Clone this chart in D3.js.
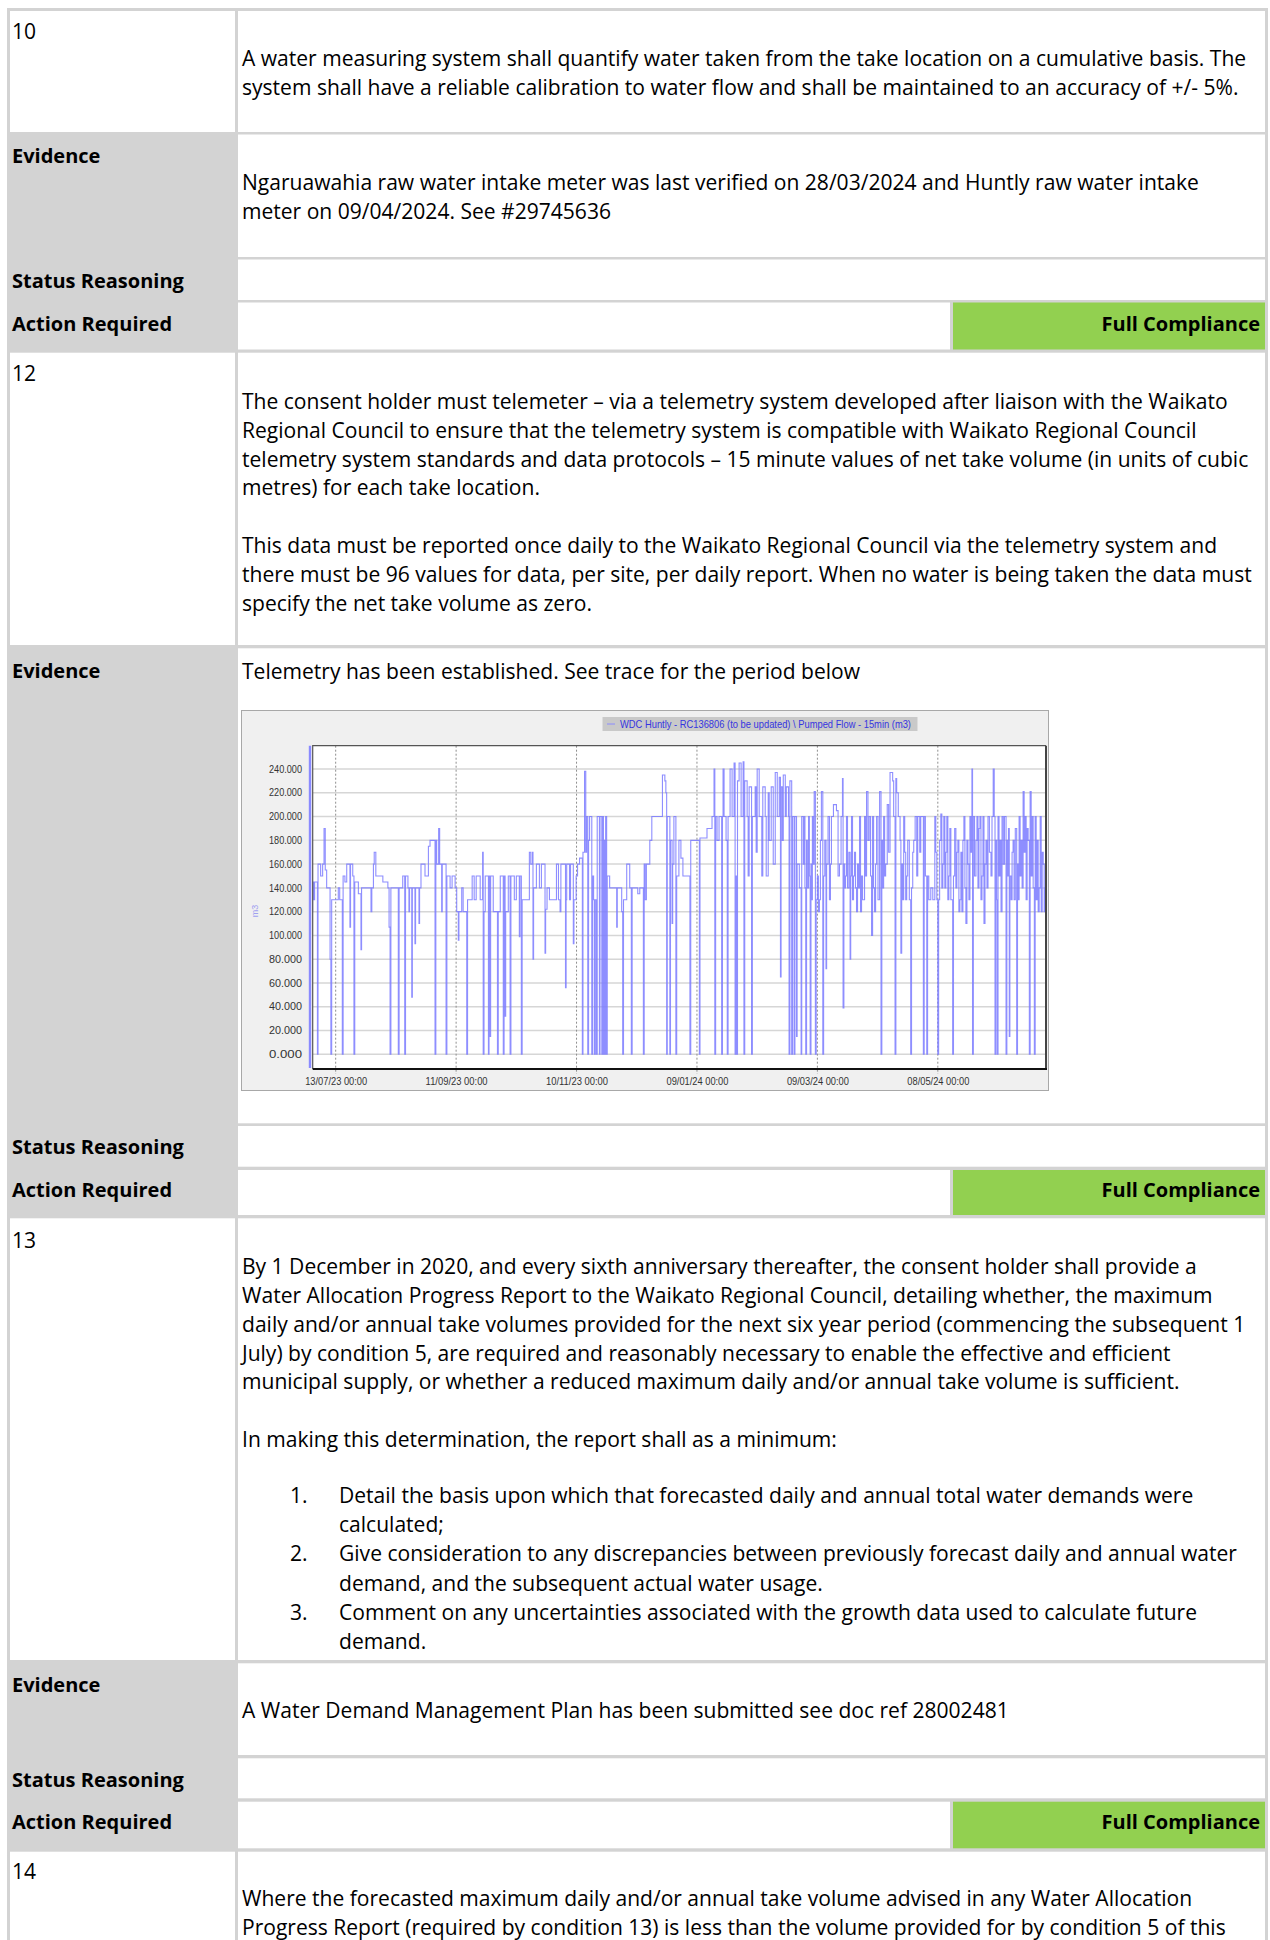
<!DOCTYPE html>
<html>
<head>
<meta charset="utf-8">
<script src="https://cdn.jsdelivr.net/npm/d3@7"></script>
<style>
body { margin: 0; background: #fff; }
svg { display: block; }
</style>
</head>
<body>
<svg id="page" width="1270" height="1940"></svg>
<script>
// ---- chart values (day offset from 1 Jul 2023, m3 per 15 min) ----
const flowJulOct = [
	[0,120],[0.5,145],[1.0,130],[1.5,145],[2.9,0],[3.2,160],[4.5,150],[5.5,160],[6.2,190],[6.8,155],
	[7.5,140],[9.2,80],[9.6,0],[10.0,130],[13.3,140],[14.0,130],[15.3,0],[15.7,150],[16.6,145],[17.5,160],
	[19.1,107],[19.4,160],[20.5,150],[21.1,0],[21.5,145],[23.3,135],[24.6,88],[24.9,140],[29.6,120],[30.0,140],
	[30.8,160],[31.2,170],[32.0,150],[35.5,145],[38.0,140],[38.6,107],[39.1,0],[39.5,140],[43.2,0],[43.6,140],
	[45.4,150],[46.4,0],[46.8,150],[48.0,140],[48.5,120],[48.8,140],[49.9,48],[50.2,140],[51.5,93],[51.8,140],
	[53.5,110],[53.8,140],[54.5,160],[56.5,150],[58.2,175],[59.0,180],[61.5,0],[61.9,180],[62.3,160],[63.3,190],
	[63.8,160],[64.8,120],[65.1,160],[67.0,0],[67.4,150],[69.0,140],[70.0,150],[71.5,140],[72.3,120],[73.1,96],
	[73.4,120],[74.8,140],[75.5,120],[77.3,0],[77.7,130],[80.0,150],[81.0,130],[82.0,150],[84.0,130],[85.2,170],
	[85.5,0],[85.9,120],[86.5,150],[88.1,0],[88.4,150],[88.9,15],[89.2,150],[90.5,120],[92.6,0],[93.0,120],
	[94.0,150],[95.5,0],[95.9,150],[96.4,32],[96.7,120],[98.0,150],[98.9,0],[99.3,150],[101.0,130],[102.0,150],
	[103.5,99],[103.8,150],[104.5,0],[104.9,130],[108.5,170],[109.2,160],[110.0,170],[110.3,80],[110.6,140],[112.0,160],
	[113.5,140],[114.5,160],[116.3,85],[116.6,122],[117.3,140],[118.5,130],[122.0,160]
]
const flowNovFeb = [
	[123.0,130],[123.8,120],[124.2,160],[126.5,56],[126.8,130],[127.1,160],[128.5,130],[129.0,160],[130.4,93],[130.7,130],
	[131.8,150],[132.5,160],[133.5,165],[134.9,0],[135.2,170],[136.0,238],[136.6,170],[137.0,200],[137.6,0],[138.0,180],
	[138.5,200],[139.6,0],[140.0,150],[140.5,130],[140.9,0],[141.3,130],[141.9,0],[142.3,200],[143.4,0],[143.7,200],
	[144.6,0],[144.9,200],[145.4,0],[145.7,180],[146.2,0],[146.5,200],[147.0,0],[147.3,150],[148.5,140],[152.0,107],
	[152.3,140],[154.5,120],[155.0,0],[155.4,130],[157.0,160],[158.5,140],[159.3,0],[159.7,140],[162.5,135],[163.5,140],
	[165.3,0],[165.7,160],[166.2,130],[166.8,160],[168.5,180],[169.5,200],[174.8,235],[176.0,230],[176.5,220],[176.9,0],
	[177.2,200],[178.5,0],[178.8,180],[179.6,110],[179.9,160],[180.5,200],[181.5,0],[181.9,150],[183.0,180],[184.0,165],
	[185.0,150],[188.5,0],[188.9,180],[193.2,0],[193.5,182],[197.0,190],[199.5,200],[200.5,240],[200.9,0],[201.3,200],
	[202.0,180],[203.0,200],[204.3,0],[204.7,200],[205.0,240],[205.5,200],[206.5,180],[207.1,0],[207.5,200],[208.5,240],
	[209.5,200],[210.5,245],[211.0,0],[211.3,150],[211.8,0],[212.2,230],[213.0,245],[214.0,200],[215.0,246],[215.4,0],
	[215.8,230],[217.0,200],[217.5,150],[218.0,225],[219.2,0],[219.6,200],[221.0,225],[221.5,170],[222.0,240],[223.0,200],
	[224.3,150],[224.8,225],[226.0,200],[226.5,150],[227.5,220],[228.0,180],[229.0,225],[230.0,160],[231.0,237],[232.0,200],
	[233.0,233],[233.6,65],[233.9,225],[234.5,180],[235.0,235],[236.0,200],[236.5,225],[237.6,200],[237.9,0],[238.3,230],
	[239.2,0],[239.6,200],[240.4,0],[240.8,200],[241.6,15],[241.9,160],[243.0,140],[243.9,0],[244.2,200]
]
const flowMarJun = [
	[245.0,160],[245.5,200],[245.8,140],[246.2,0],[246.6,180],[247.0,140],[247.6,200],[248.0,150],[248.4,0],[248.8,160],
	[249.2,130],[249.5,200],[250.0,160],[250.4,221],[251.0,0],[251.4,130],[252.0,150],[252.5,120],[253.0,130],[253.5,180],
	[254.0,221],[254.7,0],[255.1,150],[255.7,180],[256.3,72],[256.6,160],[257.3,200],[258.0,130],[258.5,160],[259.0,200],
	[260.0,210],[261.5,205],[262.3,150],[263.0,160],[263.8,200],[264.5,232],[264.8,39],[265.2,160],[265.6,140],[266.0,150],
	[266.5,200],[267.0,140],[267.7,170],[268.3,80],[268.6,150],[269.0,200],[269.5,130],[270.0,150],[270.5,170],[271.0,140],
	[271.5,120],[272.0,160],[272.5,140],[273.0,200],[273.5,120],[274.0,150],[274.5,130],[275.5,200],[276.0,150],[276.5,221],
	[277.2,180],[277.8,200],[278.5,150],[279.0,100],[279.5,200],[280.0,140],[280.5,120],[281.0,160],[281.5,200],[282.2,130],
	[283.0,221],[283.7,0],[284.1,180],[284.6,140],[285.0,200],[285.5,150],[286.0,160],[286.8,210],[287.5,170],[288.2,237],
	[289.5,230],[290.0,200],[290.7,0],[291.1,232],[291.5,220],[292.3,200],[293.2,180],[293.6,85],[294.0,160],[294.5,130],
	[295.0,200],[295.5,170],[296.0,130],[296.5,150],[297.0,180],[297.8,130],[298.5,0],[298.9,140],[299.5,170],[300.0,180],
	[300.7,200],[301.5,150],[302.0,200],[303.0,170],[303.5,200],[304.8,0],[305.2,200],[305.8,150],[306.5,0],[306.9,150],
	[307.5,130],[308.5,140],[309.5,130],[310.5,200],[311.0,170],[311.5,130],[312.0,0],[312.4,130],[312.9,180],[313.5,202],
	[314.0,140],[314.5,160],[315.0,200],[315.5,140],[316.0,170],[316.5,200],[317.0,130],[317.5,150],[318.0,190],[318.5,130],
	[319.4,0],[319.8,150],[320.4,190],[321.0,140],[321.5,170],[322.0,180],[322.5,120],[323.0,130],[323.5,170],[324.0,120],
	[324.5,180],[325.0,200],[325.5,140],[326.0,110],[326.5,180],[327.0,160],[327.5,130],[328.0,200],[328.5,170],[329.0,240],
	[329.3,0],[329.7,200],[330.3,150],[331.0,180],[331.5,200],[332.0,140],[332.5,190],[333.0,200],[333.5,130],[334.0,150],
	[334.5,200],[335.0,110],[335.5,160],[336.0,180],[336.5,140],[337.0,200],[337.7,170],[338.5,150],[339.0,200],[339.6,240],
	[340.1,200],[340.5,0],[340.9,180],[341.3,130],[341.6,0],[342.0,200],[342.5,150],[343.0,180],[343.5,120],[344.0,200],
	[344.6,160],[345.2,200],[346.0,0],[346.4,180],[346.8,150],[347.2,190],[347.6,15],[347.9,150],[348.5,130],[349.0,170],
	[349.5,180],[350.0,130],[350.6,190],[351.3,0],[351.7,160],[352.0,130],[352.5,200],[353.0,150],[353.5,180],[354.0,140],
	[354.5,221],[355.0,170],[355.5,200],[356.0,130],[356.5,190],[357.0,180],[357.6,0],[358.0,221],[358.5,150],[359.0,200],
	[359.5,140],[360.1,0],[360.5,200],[361.0,130],[361.5,180],[362.0,120],[362.5,140],[363.0,200],[363.5,120],[364.0,170],
	[364.5,160],[365.0,120],[365.5,140]
]

const yTickValues = [0, 20, 40, 60, 80, 100, 120, 140, 160, 180, 200, 220, 240]
const xTickLabels = ['13/07/23', '11/09/23', '10/11/23', '09/01/24', '09/03/24', '08/05/24']
const legendLabel = 'WDC Huntly - RC136806 (to be updated) \\ Pumped Flow - 15min (m3)'
const yTitle = 'm3'

// ---- document text ----
const cond10 = [
	'A water measuring system shall quantify water taken from the take location on a cumulative basis. The',
	'system shall have a reliable calibration to water flow and shall be maintained to an accuracy of +/- 5%.'
]
const evidence10 = [
	'Ngaruawahia raw water intake meter was last verified on 28/03/2024 and Huntly raw water intake',
	'meter on 09/04/2024. See #29745636'
]
const cond12 = [
	'The consent holder must telemeter \u2013 via a telemetry system developed after liaison with the Waikato',
	'Regional Council to ensure that the telemetry system is compatible with Waikato Regional Council',
	'telemetry system standards and data protocols \u2013 15 minute values of net take volume (in units of cubic',
	'metres) for each take location.',
	'',
	'This data must be reported once daily to the Waikato Regional Council via the telemetry system and',
	'there must be 96 values for data, per site, per daily report. When no water is being taken the data must',
	'specify the net take volume as zero.'
]
const evidence12 = ['Telemetry has been established. See trace for the period below']
const cond13 = [
	'By 1 December in 2020, and every sixth anniversary thereafter, the consent holder shall provide a',
	'Water Allocation Progress Report to the Waikato Regional Council, detailing whether, the maximum',
	'daily and/or annual take volumes provided for the next six year period (commencing the subsequent 1',
	'July) by condition 5, are required and reasonably necessary to enable the effective and efficient',
	'municipal supply, or whether a reduced maximum daily and/or annual take volume is sufficient.',
	'',
	'In making this determination, the report shall as a minimum:'
]
const cond13List = [
	['1.', 'Detail the basis upon which that forecasted daily and annual total water demands were'],
	['', 'calculated;'],
	['2.', 'Give consideration to any discrepancies between previously forecast daily and annual water'],
	['', 'demand, and the subsequent actual water usage.'],
	['3.', 'Comment on any uncertainties associated with the growth data used to calculate future'],
	['', 'demand.']
]
const evidence13 = ['A Water Demand Management Plan has been submitted see doc ref 28002481']
const cond14 = [
	'Where the forecasted maximum daily and/or annual take volume advised in any Water Allocation',
	'Progress Report (required by condition 13) is less than the volume provided for by condition 5 of this'
]

const FONT = '"Open Sans", "Noto Sans", sans-serif'
const CHART_FONT = '"Liberation Sans", Arial, sans-serif'
const BORDER = '#d3d3d3'
const GREEN = '#92d050'
const LINE_H = 28.8

const svg = d3.select('#page')

function fitSize(str, weight, target) {
	const probe = svg.append('text')
		.attr('font-family', FONT)
		.attr('font-weight', weight)
		.attr('font-size', 20)
		.text(str)
	const w = probe.node().getComputedTextLength()
	probe.remove()
	return 20 * target / w
}

const bodySize = fitSize(cond10[0], 400, 1005)
const boldSize = fitSize('Status Reasoning', 700, 172)

function addText(g, str, x, yc, opts = {}) {
	const size = opts.bold ? boldSize : bodySize
	return g.append('text')
		.attr('x', x)
		.attr('y', yc + size * 0.36)
		.attr('font-family', FONT)
		.attr('font-size', size)
		.attr('font-weight', opts.bold ? 700 : 400)
		.attr('text-anchor', opts.anchor || 'start')
		.attr('fill', '#000')
		.text(str)
}

function addLines(g, lines, x, y0) {
	lines.forEach((str, i) => {
		if (str) addText(g, str, x, y0 + i * LINE_H)
	})
}

// ---- table ----
function drawTable() {
	const g = svg.append('g').attr('class', 'table')

	const rows = [
		{ kind: 'num', top: 11, bottom: 132 },
		{ kind: 'label', top: 134.5, bottom: 257 },
		{ kind: 'label', top: 259.5, bottom: 300 },
		{ kind: 'action', top: 302.5, bottom: 349.5 },
		{ kind: 'num', top: 352.7, bottom: 645 },
		{ kind: 'label', top: 648.3, bottom: 1123.3 },
		{ kind: 'label', top: 1126, bottom: 1166.7 },
		{ kind: 'action', top: 1170, bottom: 1215 },
		{ kind: 'num', top: 1218.3, bottom: 1660 },
		{ kind: 'label', top: 1663.3, bottom: 1755 },
		{ kind: 'label', top: 1758.3, bottom: 1798.3 },
		{ kind: 'action', top: 1801.7, bottom: 1848.3 },
		{ kind: 'num', top: 1851.7, bottom: 1960 }
	]

	g.append('rect')
		.attr('x', 7).attr('y', 8)
		.attr('width', 1261).attr('height', 1940)
		.attr('fill', BORDER)

	g.selectAll('.left')
		.data(rows.filter(r => r.kind === 'num'))
		.enter().append('rect')
		.attr('class', 'left')
		.attr('x', 10).attr('y', d => d.top)
		.attr('width', 225).attr('height', d => d.bottom - d.top)
		.attr('fill', '#fff')

	g.selectAll('.right')
		.data(rows)
		.enter().append('rect')
		.attr('class', 'right')
		.attr('x', 238).attr('y', d => d.top)
		.attr('width', d => d.kind === 'action' ? 712 : 1027)
		.attr('height', d => d.bottom - d.top)
		.attr('fill', '#fff')

	g.selectAll('.status')
		.data(rows.filter(r => r.kind === 'action'))
		.enter().append('rect')
		.attr('class', 'status')
		.attr('x', 953).attr('y', d => d.top)
		.attr('width', 312).attr('height', d => d.bottom - d.top)
		.attr('fill', GREEN)

	// section 10
	addText(g, '10', 12, 31.7)
	addLines(g, cond10, 242, 58.3)
	addText(g, 'Evidence', 12, 156, { bold: true })
	addLines(g, evidence10, 242, 182.7)
	addText(g, 'Status Reasoning', 12, 281, { bold: true })
	addText(g, 'Action Required', 12, 323.3, { bold: true })
	addText(g, 'Full Compliance', 1260, 323.3, { bold: true, anchor: 'end' })

	// section 12
	addText(g, '12', 12, 373.3)
	addLines(g, cond12, 242, 401.5)
	addText(g, 'Evidence', 12, 671, { bold: true })
	addLines(g, evidence12, 242, 671)
	addText(g, 'Status Reasoning', 12, 1146.7, { bold: true })
	addText(g, 'Action Required', 12, 1190, { bold: true })
	addText(g, 'Full Compliance', 1260, 1190, { bold: true, anchor: 'end' })

	// section 13
	addText(g, '13', 12, 1240)
	addLines(g, cond13, 242, 1266.7)
	cond13List.forEach(([num, str], i) => {
		const yc = 1495 + i * 29.35
		if (num) addText(g, num, 290, yc)
		addText(g, str, 339, yc)
	})
	addText(g, 'Evidence', 12, 1684.3, { bold: true })
	addLines(g, evidence13, 242, 1710)
	addText(g, 'Status Reasoning', 12, 1779.3, { bold: true })
	addText(g, 'Action Required', 12, 1821.7, { bold: true })
	addText(g, 'Full Compliance', 1260, 1821.7, { bold: true, anchor: 'end' })

	// section 14
	addText(g, '14', 12, 1871.7)
	addLines(g, cond14, 242, 1898.3)
}

// ---- telemetry chart ----
function drawChart() {
	const g = svg.append('g').attr('class', 'chart')
	const start = new Date(2023, 6, 1)
	const end = new Date(2024, 6, 1)
	const plot = { left: 312.7, right: 1046, top: 745.7, bottom: 1069 }

	const x = d3.scaleTime().domain([start, end]).range([311.6, 1046.2])
	const y = d3.scaleLinear().domain([0, 240]).range([1054.3, 769])

	const parseTick = d3.timeParse('%d/%m/%y')
	const fmtTick = d3.timeFormat('%d/%m/%y %H:%M')
	const tickDates = xTickLabels.map(parseTick)

	const data = flowJulOct.concat(flowNovFeb, flowMarJun)
		.map(([day, v]) => ({ date: new Date(+start + day * 864e5), v }))
	data.push({ date: end, v: data[data.length - 1].v })

	// image frame
	g.append('rect')
		.attr('x', 241.5).attr('y', 710.5)
		.attr('width', 807).attr('height', 380)
		.attr('fill', '#f0f0f0')
		.attr('stroke', '#a8a8a8')

	// legend
	g.append('rect')
		.attr('x', 602.5).attr('y', 717)
		.attr('width', 315).attr('height', 14)
		.attr('fill', '#c9c9c9')
	g.append('line')
		.attr('x1', 607).attr('x2', 615)
		.attr('y1', 724).attr('y2', 724)
		.attr('stroke', '#8c8cff').attr('stroke-width', 1)
	g.append('text')
		.attr('x', 620).attr('y', 727.8)
		.attr('font-family', CHART_FONT)
		.attr('font-size', 10.5)
		.attr('fill', '#3535e0')
		.attr('textLength', 291)
		.attr('lengthAdjust', 'spacingAndGlyphs')
		.text(legendLabel)

	// plot background
	g.append('rect')
		.attr('x', plot.left).attr('y', plot.top)
		.attr('width', plot.right - plot.left).attr('height', plot.bottom - plot.top)
		.attr('fill', '#fff')

	// horizontal grid
	g.append('g')
		.selectAll('line')
		.data(yTickValues)
		.enter().append('line')
		.attr('x1', plot.left).attr('x2', plot.right)
		.attr('y1', d => y(d)).attr('y2', d => y(d))
		.attr('stroke', '#d6d6d6')
		.attr('stroke-width', 1.5)

	// vertical dashed grid, running down through the axis as ticks
	g.append('g')
		.selectAll('line')
		.data(tickDates)
		.enter().append('line')
		.attr('x1', d => x(d)).attr('x2', d => x(d))
		.attr('y1', plot.top).attr('y2', plot.bottom + 5)
		.attr('stroke', '#8e8e8e')
		.attr('stroke-dasharray', '2,2')

	// series
	g.append('clipPath').attr('id', 'plotClip')
		.append('rect')
		.attr('x', plot.left).attr('y', plot.top)
		.attr('width', plot.right - plot.left).attr('height', plot.bottom - plot.top)

	const line = d3.line()
		.x(d => x(d.date))
		.y(d => y(d.v))
		.curve(d3.curveStepAfter)

	g.append('path')
		.datum(data)
		.attr('clip-path', 'url(#plotClip)')
		.attr('d', line)
		.attr('fill', 'none')
		.attr('stroke', '#7a7aff')
		.attr('stroke-width', 1.1)
		.attr('stroke-opacity', 0.85)

	// plot frame
	g.append('path')
		.attr('d', `M${plot.left},${plot.bottom}V${plot.top}H${plot.right}`)
		.attr('fill', 'none')
		.attr('stroke', '#555')
		.attr('stroke-width', 1.2)
	g.append('line')
		.attr('x1', plot.right).attr('x2', plot.right)
		.attr('y1', plot.top).attr('y2', plot.bottom)
		.attr('stroke', '#444').attr('stroke-width', 2)
	g.append('line')
		.attr('x1', plot.left).attr('x2', plot.right + 1)
		.attr('y1', plot.bottom).attr('y2', plot.bottom)
		.attr('stroke', '#111').attr('stroke-width', 2.2)

	// series-coloured y axis bar
	g.append('line')
		.attr('x1', 310).attr('x2', 310)
		.attr('y1', plot.top).attr('y2', plot.bottom - 1)
		.attr('stroke', '#8a8aff').attr('stroke-width', 2.4)

	// y axis labels
	const yAxis = g.append('g')
		.attr('transform', 'translate(306,0)')
		.call(d3.axisLeft(y).tickValues(yTickValues).tickFormat(d3.format('.3f')).tickSize(0).tickPadding(4))
	yAxis.select('.domain').remove()
	yAxis.selectAll('text')
		.attr('font-family', CHART_FONT)
		.attr('font-size', 10)
		.attr('fill', '#333')
		.attr('textLength', 33)
		.attr('lengthAdjust', 'spacingAndGlyphs')

	// x axis labels
	const xAxis = g.append('g')
		.attr('transform', `translate(0,${plot.bottom})`)
		.call(d3.axisBottom(x).tickValues(tickDates).tickFormat(fmtTick).tickSize(0).tickPadding(9))
	xAxis.select('.domain').remove()
	xAxis.selectAll('text')
		.attr('font-family', CHART_FONT)
		.attr('font-size', 10)
		.attr('fill', '#333')
		.attr('textLength', 62)
		.attr('lengthAdjust', 'spacingAndGlyphs')

	// y title
	g.append('text')
		.attr('transform', 'translate(258,911) rotate(-90)')
		.attr('text-anchor', 'middle')
		.attr('font-family', CHART_FONT)
		.attr('font-size', 9)
		.attr('fill', '#a0a0f0')
		.text(yTitle)
}

drawTable()
drawChart()
</script>
</body>
</html>
